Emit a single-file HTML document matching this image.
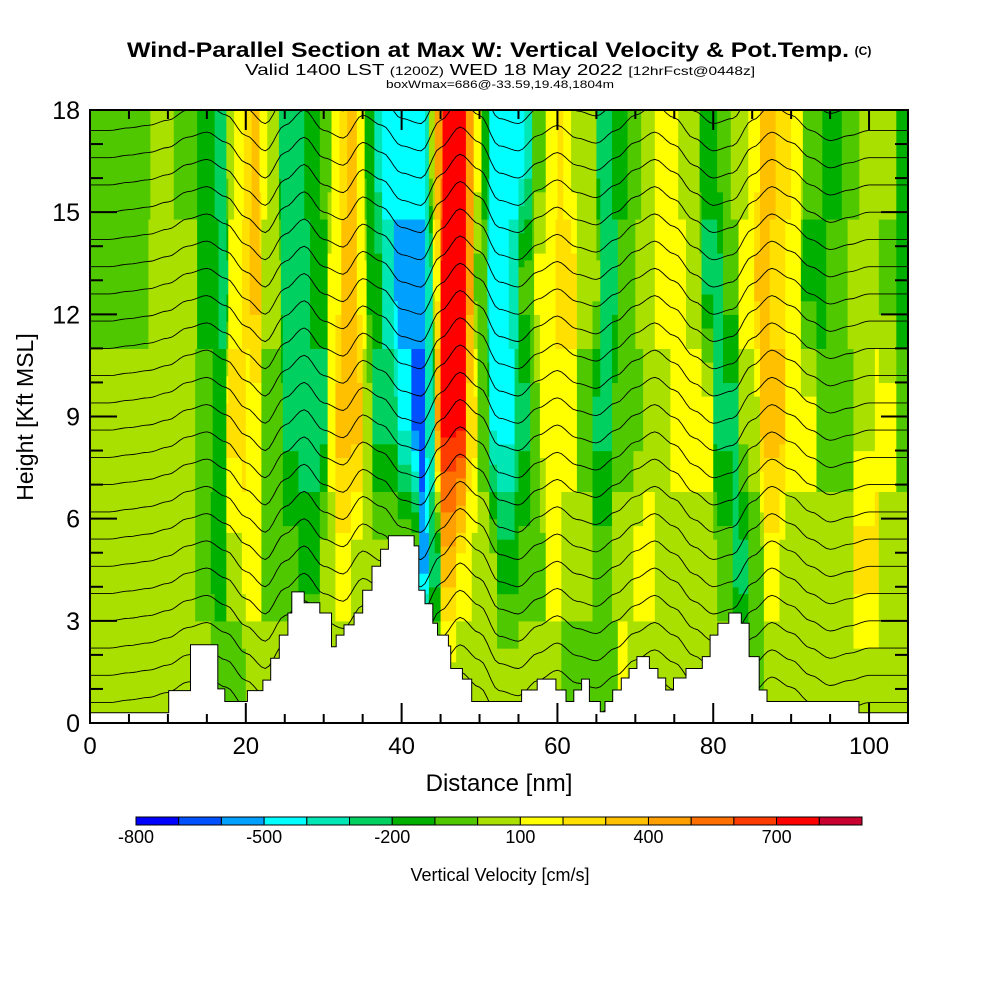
<!DOCTYPE html>
<html><head><meta charset="utf-8"><style>
html,body{margin:0;padding:0;background:#fff;}
svg{display:block;font-family:"Liberation Sans",sans-serif;}
</style></head><body>
<svg id="chart" width="1000" height="1000" viewBox="0 0 1000 1000">
<text x="488" y="57" font-size="21" font-weight="bold" text-anchor="middle" textLength="722" lengthAdjust="spacingAndGlyphs">Wind-Parallel Section at Max W: Vertical Velocity &amp; Pot.Temp.</text>
<text x="863" y="55" font-size="12" font-weight="bold" text-anchor="middle">(C)</text>
<text x="500" y="75" font-size="16" text-anchor="middle" textLength="510" lengthAdjust="spacingAndGlyphs">Valid 1400 LST <tspan font-size="12">(1200Z)</tspan> WED 18 May 2022 <tspan font-size="12">[12hrFcst@0448z]</tspan></text>
<text x="500" y="88" font-size="11" text-anchor="middle" textLength="228" lengthAdjust="spacingAndGlyphs">boxWmax=686@-33.59,19.48,1804m</text>
<defs><clipPath id="plotclip"><rect x="90" y="110" width="818" height="613"/></clipPath></defs>
<g id="field" clip-path="url(#plotclip)"></g>
<g id="isentropes" clip-path="url(#plotclip)"></g>
<g id="terrain" clip-path="url(#plotclip)"></g>
<rect x="90" y="110" width="818" height="613" fill="none" stroke="#000" stroke-width="2"/>
<g id="axes"></g>
<text x="499" y="791" font-size="24" text-anchor="middle">Distance [nm]</text>
<text transform="translate(33,417) rotate(-90)" font-size="23" text-anchor="middle">Height [Kft MSL]</text>
<g id="colorbar"></g>
<text x="500" y="881" font-size="18" text-anchor="middle">Vertical Velocity [cm/s]</text>
</svg>
<script>
// ---- data ----
const levelColors = ["#0000ff","#0050ff","#00a0ff","#00ffff","#00e6b4","#00d060","#00b000","#50c800","#aae000","#ffff00","#ffe000","#ffc000","#ffa000","#ff7000","#ff3c00","#ff0000","#c80030"];
const colorbarLabels = ["-800","-500","-200","100","400","700"];
const colorbarLabelIdx = [0,3,6,9,12,15];
const rowHeights = [1.3, 4.6, 9, 13, 16.5];
const row1Edges = [0,16.1,20.1,44.3,60.4,67.8,69.1,83.2,86.6];
const row1Levels = [8,7,8,8,7,9,8,7,8];
const row2Edges = [0,13.4,15.4,17.4,19.5,22.1,26.8,29.5,31.5,33.6,38.3,42.3,43.6,45.0,47.0,49.0,52.3,55.0,58.4,60.4,64.4,67.1,69.8,72.5,80.5,82.6,84.6,86.6,88.6,98.0,101.3];
const row2Levels = [8,7,6,8,9,7,6,8,9,8,8,2,5,11,9,8,6,7,9,8,7,8,9,8,7,5,7,9,8,10,8];
const row3Edges = [0,13.4,15.8,17.4,20.1,22.1,24.8,30.5,31.5,34.9,36.2,39.6,41.3,43.0,44.3,45.0,48.3,49.7,51.3,54.4,56.4,57.7,62.4,64.4,67.1,71.1,74.5,79.9,83.2,85.9,89.3,93.3,98.0,100.7,103.4];
const row3Levels = [8,7,6,10,9,7,5,9,11,8,5,3,1,4,12,15,10,7,3,5,7,9,7,5,7,8,9,5,8,11,9,7,8,9,7];
const row4Edges = [0,7.4,13.8,16.4,17.8,19.5,20.5,22.1,24.5,28.2,30.5,32.2,34.2,35.6,37.6,38.9,43.0,44.0,45.0,48.3,49.3,51.0,53.7,55.0,57.0,59.7,62.4,65.4,67.8,70.1,72.5,76.5,78.5,81.2,83.2,85.2,87.2,89.3,91.3,94.6,97.3,101.3,103.4];
const row4Levels = [7,8,6,5,9,10,11,8,5,6,9,11,9,6,4,2,4,9,15,12,7,3,4,7,9,10,8,5,7,8,9,8,5,7,9,11,10,9,6,7,8,7,6];
const row5Edges = [0,7.7,10.7,13.8,16.1,17.6,18.5,19.8,20.8,21.8,22.8,24.2,27.5,29.5,30.9,31.9,32.9,34.2,35.2,36.6,37.6,43.0,43.6,44.3,45.3,48.3,49.3,50.3,51.3,55.7,56.7,58.4,60.1,60.7,61.7,65.1,67.1,69.1,70.8,72.5,75.5,78.2,80.5,82.2,84.6,85.9,87.9,89.9,91.6,94.0,96.6,98.7,103.4];
const row5Levels = [7,8,7,6,5,8,9,10,11,9,8,5,6,7,9,10,11,9,6,4,3,4,8,12,15,12,9,6,3,4,7,9,10,9,8,5,6,7,8,9,8,6,7,8,9,11,10,9,7,6,7,8,6];
const terrainNm = [0,10.1,10.1,12.9,12.9,16.4,16.4,17.3,20.2,22.2,23.2,24.3,25.4,25.9,27.5,29.5,31.0,31.6,32.6,33.9,35.0,36.2,37.3,38.3,41.0,41.6,42.2,43.0,44.0,44.6,46.0,46.3,47.8,49.0,53.7,55.4,57.4,59.8,61.1,62.1,63.1,64.1,65.5,66.1,67.1,68.2,69.2,70.2,71.8,72.9,73.9,74.9,76.5,78.6,79.6,80.6,82.0,83.6,84.6,85.9,86.9,88.6,98.7,98.7,105];
const terrainKft = [0.3,0.3,0.95,0.95,2.3,2.3,1.0,0.63,0.95,1.26,1.9,2.58,3.23,3.85,3.53,3.23,2.24,2.58,2.88,3.23,3.9,4.6,5.1,5.5,5.5,5.2,3.9,3.5,2.93,2.58,2.26,1.6,1.29,0.63,0.63,0.97,1.29,0.97,0.63,0.97,1.29,0.63,0.33,0.63,0.97,1.32,1.6,1.95,1.6,1.32,0.97,1.32,1.6,1.95,2.58,2.93,3.23,2.93,1.95,0.97,0.63,0.63,0.63,0.3,0.3];
const thetaDispNm = [0,2.5,5,7.5,10,12.5,15,17.5,20,22.5,25,27.5,30,32.5,35,37.5,40,42.5,45,47.5,50,52.5,55,57.5,60,62.5,65,67.5,70,72.5,75,77.5,80,82.5,85,87.5,90,92.5,95,97.5,100,102.5,105];
const thetaDisp = [0,0,0.1,0.2,0.4,0.8,1.0,0.6,-0.2,-0.8,0.2,0.8,0,-0.3,0.6,0.2,-0.6,-0.8,0.4,1.2,0.6,-0.6,-0.8,-0.2,0.2,-0.3,-0.5,0,0.6,1.0,0.5,-0.3,-0.8,-0.6,0.4,1.0,0.6,0,-0.4,-0.2,0,0,0];
const thetaBases = [0.6,1.4,2.2,3.0,3.8,4.6,5.4,6.2,7.0,7.8,8.6,9.4,10.2,11.0,11.8,12.6,13.4,14.2,15.0,15.8,16.6,17.4,18.2,19.0];
const xTickLabels = [0,20,40,60,80,100];
const yTickLabels = [0,3,6,9,12,15,18];

// ---- scales ----
const NS="http://www.w3.org/2000/svg";
const X = nm => 90 + nm*818/105;
const Y = k => 723 - k*613/18;
function mk(tag, attrs, parent){const e=document.createElementNS(NS,tag);for(const k in attrs)e.setAttribute(k,attrs[k]);parent.appendChild(e);return e;}
function segLookup(edges, levels, nm){let i=0;for(let j=0;j<edges.length;j++){if(nm>=edges[j])i=j;}return levels[i];}
const rows = [[row1Edges,row1Levels],[row2Edges,row2Levels],[row3Edges,row3Levels],[row4Edges,row4Levels],[row5Edges,row5Levels]];

// ---- field ----
const field=document.getElementById('field');
const dx=0.25, dz=0.2;
const ncol=Math.round(105/dx), nrow=Math.round(18/dz);
const dense = rows.map(r=>{const a=[];for(let c=0;c<ncol;c++)a.push(segLookup(r[0],r[1],(c+0.5)*dx));return a;});
for(let r=0;r<nrow;r++){
  const z=(r+0.5)*dz;
  let i0,i1,t;
  if(z<=rowHeights[0]){i0=i1=0;t=0;}
  else if(z>=rowHeights[rowHeights.length-1]){i0=i1=rowHeights.length-1;t=0;}
  else{for(let j=0;j<rowHeights.length-1;j++){if(z>=rowHeights[j]&&z<rowHeights[j+1]){i0=j;i1=j+1;t=(z-rowHeights[j])/(rowHeights[j+1]-rowHeights[j]);}}}
  let runStart=0, runLev=null;
  for(let c=0;c<=ncol;c++){
    let lev=null;
    if(c<ncol){lev=Math.round(dense[i0][c]*(1-t)+dense[i1][c]*t);lev=Math.max(0,Math.min(16,lev));}
    if(lev!==runLev){
      if(runLev!==null){
        const el=mk('rect',{x:X(runStart*dx).toFixed(2),y:Y((r+1)*dz).toFixed(2),width:(X(c*dx)-X(runStart*dx)+0.6).toFixed(2),height:(613/18*dz+0.6).toFixed(2),fill:levelColors[runLev]},field);
        
        
      }
      runStart=c;runLev=lev;
    }
  }
}

// ---- isentropes ----
const iso=document.getElementById('isentropes');
function dispAt(nm){for(let j=0;j<thetaDispNm.length-1;j++){if(nm>=thetaDispNm[j]&&nm<=thetaDispNm[j+1]){const t=(nm-thetaDispNm[j])/(thetaDispNm[j+1]-thetaDispNm[j]);const s=t*t*(3-2*t);return thetaDisp[j]*(1-s)+thetaDisp[j+1]*s;}}return 0;}
thetaBases.forEach(b=>{
  let d='';
  for(let nm=0;nm<=105;nm+=0.5){
    const k=b+0.75*dispAt(nm);
    d+=(nm===0?'M':'L')+X(nm).toFixed(1)+','+Y(k).toFixed(1);
  }
  const p=mk('path',{d:d,fill:'none',stroke:'#000','stroke-width':'0.9'},iso);
  
  
});

// ---- terrain (stepped) ----
const terr=document.getElementById('terrain');
let td='M'+X(0)+','+Y(0);
for(let i=0;i<terrainNm.length;i++){
  td+=' L'+X(terrainNm[i]).toFixed(1)+','+Y(i>0?terrainKft[i-1]:terrainKft[0]).toFixed(1);
  td+=' L'+X(terrainNm[i]).toFixed(1)+','+Y(terrainKft[i]).toFixed(1);
}
td+=' L'+X(105)+','+Y(0)+' Z';
const tp=mk('path',{d:td,fill:'#fff',stroke:'#000','stroke-width':'1'},terr);



// ---- axes ----
const axes=document.getElementById('axes');
for(let nm=0;nm<=105;nm+=5){
  const major=nm%20===0, L=major?20:9;
  mk('line',{x1:X(nm),x2:X(nm),y1:723,y2:723-L,stroke:'#000','stroke-width':2},axes);
  mk('line',{x1:X(nm),x2:X(nm),y1:110,y2:110+L,stroke:'#000','stroke-width':2},axes);
}
xTickLabels.forEach(v=>{const t=mk('text',{x:X(v),y:754,'font-size':24,'text-anchor':'middle'},axes);t.textContent=v;
  
  });
for(let k=0;k<=18;k+=1){
  const major=k%3===0, L=major?27:13;
  mk('line',{x1:90,x2:90+L,y1:Y(k),y2:Y(k),stroke:'#000','stroke-width':2},axes);
  mk('line',{x1:908,x2:908-L,y1:Y(k),y2:Y(k),stroke:'#000','stroke-width':2},axes);
}
yTickLabels.forEach(v=>{const t=mk('text',{x:80,y:Y(v)+9,'font-size':25,'text-anchor':'end'},axes);t.textContent=v;
  
  });

// ---- colorbar ----
const cb=document.getElementById('colorbar');
const cbx0=136, cbw=(862-136)/17;
levelColors.forEach((c,i)=>{const r=mk('rect',{x:cbx0+i*cbw,y:817,width:cbw,height:8,fill:c,stroke:'#000','stroke-width':1},cb);
  
  });
colorbarLabels.forEach((s,i)=>{const t=mk('text',{x:cbx0+colorbarLabelIdx[i]*cbw,y:843,'font-size':18,'text-anchor':'middle'},cb);t.textContent=s;
  
  });
</script>
</body></html>
